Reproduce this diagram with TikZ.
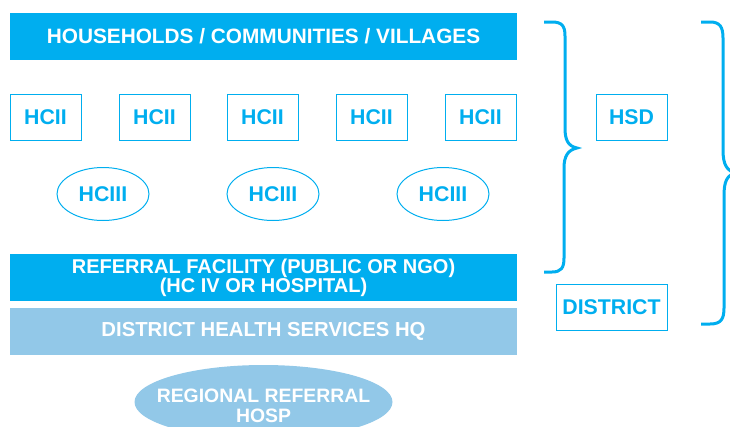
\documentclass[tikz,border=0pt]{standalone}
\usepackage{fontspec}
\setmainfont{Liberation Sans}
\usetikzlibrary{shapes.geometric}
\definecolor{hcblue}{HTML}{00AEEF}
\definecolor{hclight}{HTML}{92C8E8}
\begin{document}
\begin{tikzpicture}[x=1pt,y=-1pt,
  lbl/.style={font=\fontsize{#1}{18.7}\selectfont\bfseries},
  lbl/.default=20.8,
  bar/.style={rectangle, fill=hcblue, text=white, lbl, inner sep=0pt,
    align=center, minimum width=507pt, minimum height=47pt},
  unitbox/.style={rectangle, draw=hcblue, line width=1pt, text=hcblue, lbl=21.3,
    inner sep=0pt, minimum width=71pt, minimum height=46pt},
  unitoval/.style={ellipse, draw=hcblue, line width=1pt, text=hcblue, lbl=21.3,
    inner sep=0pt, minimum width=92pt, minimum height=53pt},
  bracket/.style={draw=hcblue, line width=3pt}
]
\useasboundingbox (0,0) rectangle (730,426);
\clip (0,0) rectangle (730,426);

% community level
\node[bar] (hh) at (263.5,36.5) {HOUSEHOLDS / COMMUNITIES / VILLAGES};

% health centre II
\node[unitbox] (hc2a) at (45.5,117) {HCII};
\node[unitbox] (hc2b) at (154.5,117) {HCII};
\node[unitbox] (hc2c) at (262.5,117) {HCII};
\node[unitbox] (hc2d) at (371.5,117) {HCII};
\node[unitbox] (hc2e) at (480.5,117) {HCII};

% health centre III
\node[unitoval] (hc3a) at (103,194) {HCIII};
\node[unitoval] (hc3b) at (273,194) {HCIII};
\node[unitoval] (hc3c) at (443,194) {HCIII};

% referral and district tiers
\node[bar, lbl=20, minimum height=46.5pt] (ref) at (263.5,277.5)
  {REFERRAL FACILITY (PUBLIC OR NGO)\\(HC IV OR HOSPITAL)};
\node[bar, fill=hclight, lbl=20.3] (dhq) at (263.5,331.5) {DISTRICT HEALTH SERVICES HQ};

% regional referral hospital
\node[ellipse, fill=hclight, inner sep=0pt, minimum width=258pt,
  minimum height=74pt] (rrh) at (263.5,402) {};
\node[text=white, align=center, inner sep=0pt,
  font=\fontsize{19.4}{19.5}\selectfont\bfseries] (rrhtext) at (263.5,406)
  {REGIONAL REFERRAL\\HOSP};

% level labels
\node[unitbox] (hsd) at (631.5,117) {HSD};
\node[unitbox, minimum width=111pt] (dist) at (611.5,307) {DISTRICT};

% braces
\draw[bracket] (544,22) -- (552,22) .. controls (562,22) and (565,26) .. (565,36)
  -- (565,128) .. controls (565,140) and (568,146) .. (577,148)
  .. controls (568,150) and (564,156) .. (564,168)
  -- (564,258) .. controls (564,268) and (561,272) .. (552,272) -- (544,272);
\draw[bracket] (701,22) -- (710,22) .. controls (720,22) and (723,27) .. (723,38)
  -- (723,150) .. controls (723,165) and (727,171) .. (736,173)
  .. controls (727,175) and (724,181) .. (724,196)
  -- (724,308) .. controls (724,319) and (721,324) .. (710,324) -- (701,324);
\end{tikzpicture}
\end{document}
